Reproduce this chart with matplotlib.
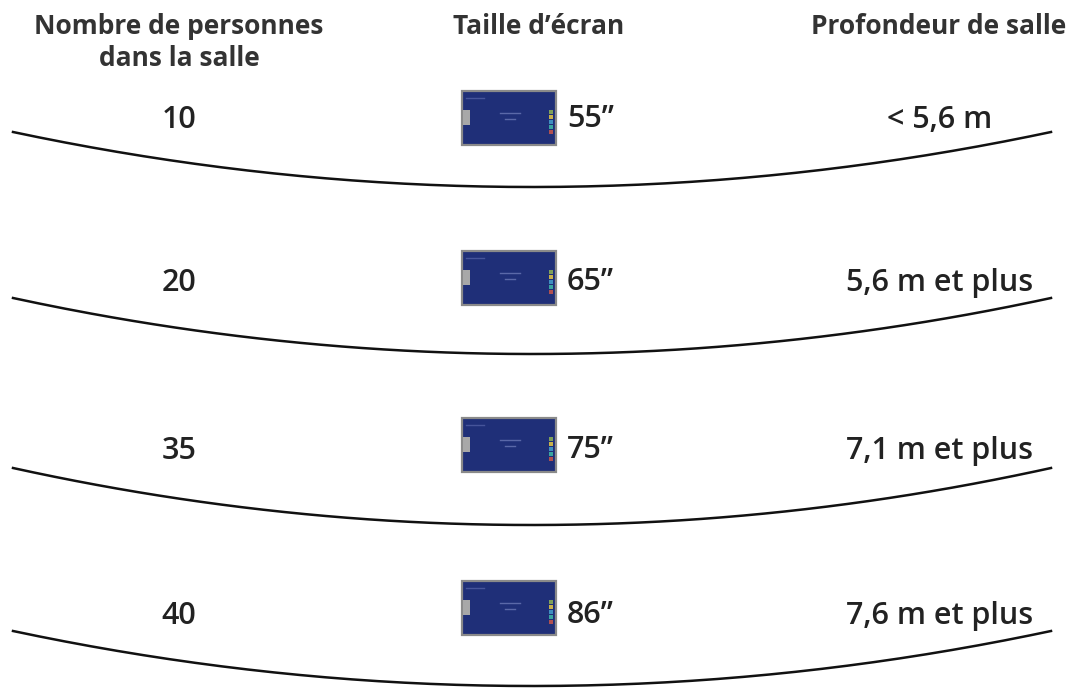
import numpy as np
import matplotlib.pyplot as plt
from matplotlib.patches import Rectangle

plt.rcParams['font.family'] = ['Open Sans', 'DejaVu Sans']

# Table contents, one entry per row
people = ['10', '20', '35', '40']
screens = ['55”', '65”', '75”', '86”']
depths = ['< 5,6 m', '5,6 m et plus', '7,1 m et plus', '7,6 m et plus']
text_y = [120, 283, 451, 616]
screen_top = [91, 251, 418, 581]
screen_heights = [54, 54, 54, 54]
arc_end_y = [132, 298, 468, 631]
arc_mid_y = [187, 354, 525, 686]
# little coloured buttons on the right edge of the screen icon
button_colors = ['#7fa05a', '#c9b24a', '#3f8fc0', '#3aa6a0', '#b05050']

fig = plt.figure(figsize=(10.7, 6.88), dpi=100)
ax = fig.add_axes([0, 0, 1, 1])
ax.set_xlim(0, 1070)
ax.set_ylim(688, 0)
ax.axis('off')

# Column headers
ax.text(179, 26, 'Nombre de personnes', ha='center', va='center', fontsize=19, fontweight='bold', color='#333333')
ax.text(179, 59, 'dans la salle', ha='center', va='center', fontsize=19, fontweight='bold', color='#333333')
ax.text(539, 26, "Taille d’écran", ha='center', va='center', fontsize=19, fontweight='bold', color='#333333')
ax.text(939, 26, 'Profondeur de salle', ha='center', va='center', fontsize=19, fontweight='bold', color='#333333')

for i in range(4):
    ax.text(179, text_y[i], people[i], ha='center', va='center', fontsize=22, fontweight='semibold', color='#222222')
    ax.text(567, text_y[i] - 1, screens[i], ha='left', va='center', fontsize=22, fontweight='semibold', color='#222222')
    ax.text(1033 if i > 0 else 992, text_y[i], depths[i], ha='right', va='center', fontsize=22, fontweight='semibold', color='#222222')

    # Screen icon
    top = screen_top[i]
    h = screen_heights[i]
    ax.add_patch(Rectangle((462, top), 94, h, fc='#1f2f78', ec='#8a8a8a', lw=1.6))
    ax.add_patch(Rectangle((463, top + 19), 7, 15, fc='#a8a8a8', ec='none'))
    ax.plot([466, 484], [top + 7, top + 7], color='#46549a', lw=1)
    for b in range(5):
        ax.add_patch(Rectangle((549, top + 19 + b * 5), 4, 4, fc=button_colors[b], ec='none'))
    ax.plot([500, 520], [top + 22, top + 22], color='#5a68a8', lw=1)
    ax.plot([505, 515], [top + 28, top + 28], color='#5a68a8', lw=1)

    # Curved separator
    x = np.linspace(13, 1051, 200)
    t = (x - 532) / 519
    ax.plot(x, arc_mid_y[i] - (arc_mid_y[i] - arc_end_y[i]) * t ** 2, color='#111111', lw=1.8)

fig.savefig('out.png', dpi=100)
